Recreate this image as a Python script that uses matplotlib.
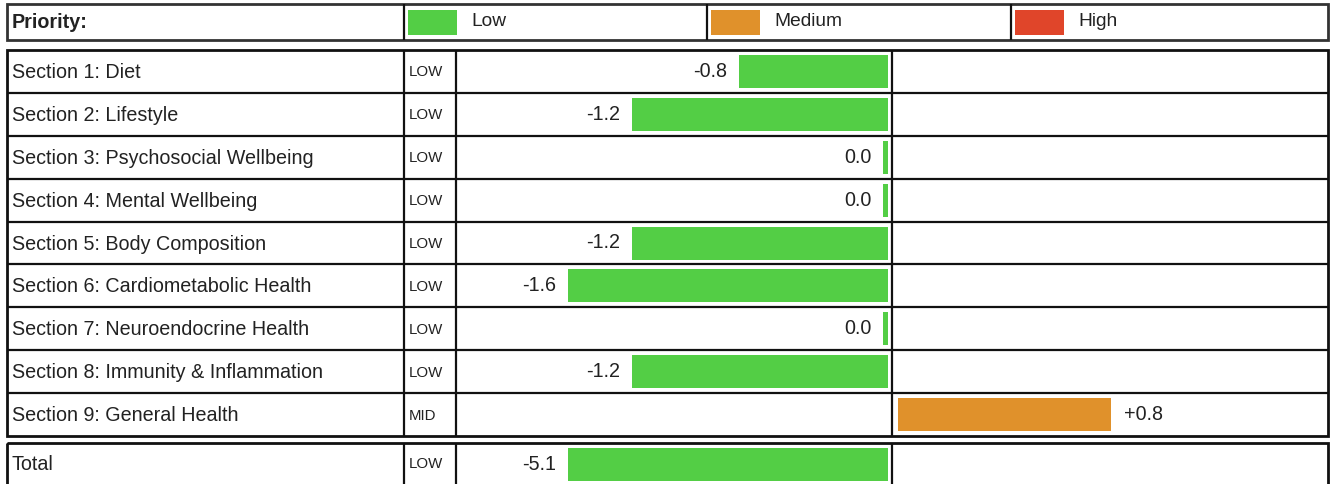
import matplotlib
matplotlib.use("Agg")
import matplotlib.pyplot as plt
from matplotlib.patches import Rectangle

plt.rcParams['font.family'] = ['Liberation Sans', 'DejaVu Sans']

# ---------------- data ----------------
sections = ["Section 1: Diet", "Section 2: Lifestyle", "Section 3: Psychosocial Wellbeing",
            "Section 4: Mental Wellbeing", "Section 5: Body Composition",
            "Section 6: Cardiometabolic Health", "Section 7: Neuroendocrine Health",
            "Section 8: Immunity & Inflammation", "Section 9: General Health"]
priorities = ["LOW", "LOW", "LOW", "LOW", "LOW", "LOW", "LOW", "LOW", "MID"]
scores = [-0.8, -1.2, 0.0, 0.0, -1.2, -1.6, 0.0, -1.2, 0.8]
score_labels = ["-0.8", "-1.2", "0.0", "0.0", "-1.2", "-1.6", "0.0", "-1.2", "+0.8"]
# bar extents as drawn (capped display scale)
bar_lengths = [0.745, 1.28, 0.025, 0.025, 1.28, 1.6, 0.025, 1.28, 1.065]

total_label = "Total"
total_priority = "LOW"
total_score = -5.1
total_score_label = "-5.1"
total_bar_length = 1.6

legend_labels = ["Low", "Medium", "High"]
legend_colors = ["#53CE45", "#E0912B", "#E0452A"]
priority_colors = {"LOW": "#53CE45", "MID": "#E0912B", "HIGH": "#E0452A"}

# ---------------- layout ----------------
W, H = 1330, 484
fig = plt.figure(figsize=(W / 100, H / 100), dpi=100)
bg = fig.add_axes([0, 0, 1, 1])
bg.set_xlim(0, W)
bg.set_ylim(H, 0)
bg.axis('off')

LC = '#111111'
LW = 1.6
TXT = '#222222'
FS = 14.2

# header
hx = [7, 404, 707, 1011, 1328]
hy0, hy1 = 4, 40
bg.add_patch(Rectangle((hx[0], hy0), hx[-1] - hx[0], hy1 - hy0, fill=False, ec='#333333', lw=2.0))
for x in hx[1:-1]:
    bg.plot([x, x], [hy0, hy1], color=LC, lw=LW, solid_capstyle='butt')
bg.text(12, (hy0 + hy1) / 2, "Priority:", fontsize=FS, fontweight='bold', color=TXT, va='center', ha='left')
for i, (lab, col) in enumerate(zip(legend_labels, legend_colors)):
    x0 = hx[i + 1] + 4
    bg.add_patch(Rectangle((x0, 10), 49, 25, color=col, lw=0))
    bg.text(x0 + 63, 21, lab, fontsize=FS * 0.97, color=TXT, va='center', ha='left')

# table grid
cx = [7, 404, 456, 892, 1328]
ty0 = 50
rh = (436 - 50) / len(sections)
ty1 = ty0 + rh * len(sections)
bg.add_patch(Rectangle((cx[0], ty0), cx[-1] - cx[0], ty1 - ty0, fill=False, ec=LC, lw=2.0))
for i in range(1, len(sections)):
    y = ty0 + rh * i
    bg.plot([cx[0], cx[-1]], [y, y], color=LC, lw=LW, solid_capstyle='butt')
for x in cx[1:-1]:
    bg.plot([x, x], [ty0, ty1], color=LC, lw=LW, solid_capstyle='butt')

for i, (s, p) in enumerate(zip(sections, priorities)):
    yc = ty0 + rh * (i + 0.5)
    bg.text(12, yc + 1, s, fontsize=FS, color=TXT, va='center', ha='left')
    bg.text(409, yc + 1, p, fontsize=10.8, color=TXT, va='center', ha='left')

# total row
tt0 = 443
tt1 = tt0 + rh
bg.add_patch(Rectangle((cx[0], tt0), cx[-1] - cx[0], tt1 - tt0, fill=False, ec=LC, lw=2.0, clip_on=False))
for x in cx[1:-1]:
    bg.plot([x, x], [tt0, tt1], color=LC, lw=LW, solid_capstyle='butt')
bg.text(12, tt0 + rh / 2, total_label, fontsize=FS, color=TXT, va='center', ha='left')
bg.text(409, tt0 + rh / 2, total_priority, fontsize=10.8, color=TXT, va='center', ha='left')

# ---------------- bar axes ----------------
PX = 200.0  # pixels per unit on the bar scale
zero_left = 888
zero_right = 898


def cell_axes(x0, x1, y0, y1, zero):
    ax = fig.add_axes([x0 / W, (H - y1) / H, (x1 - x0) / W, (y1 - y0) / H])
    ax.set_xlim((x0 - zero) / PX, (x1 - zero) / PX)
    ax.axis('off')
    ax.patch.set_alpha(0)
    return ax


axL = cell_axes(cx[2], cx[3], ty0, ty1, zero_left)
axR = cell_axes(cx[3], cx[4], ty0, ty1, zero_right)
for ax in (axL, axR):
    ax.set_ylim(len(sections) - 0.5, -0.5)

bar_h = 33 / rh
for i, (v, lab, bl, p) in enumerate(zip(scores, score_labels, bar_lengths, priorities)):
    col = priority_colors[p]
    if v > 0:
        axR.barh(i, bl, height=bar_h, color=col, lw=0)
        axR.annotate(lab, (bl, i), xytext=(9.5, 0), textcoords='offset points',
                     fontsize=FS, color=TXT, va='center', ha='left')
    else:
        axL.barh(i, -bl, height=bar_h, color=col, lw=0)
        axL.annotate(lab, (-bl, i), xytext=(-8.5, 0), textcoords='offset points',
                     fontsize=FS, color=TXT, va='center', ha='right')

axT = cell_axes(cx[2], cx[3], tt0, tt1, zero_left)
axT.set_ylim(0.5, -0.5)
axT.barh(0, -total_bar_length, height=bar_h, color=priority_colors[total_priority], lw=0)
axT.annotate(total_score_label, (-total_bar_length, 0), xytext=(-8.5, 0), textcoords='offset points',
             fontsize=FS, color=TXT, va='center', ha='right')

fig.savefig("out.png", dpi=100)
